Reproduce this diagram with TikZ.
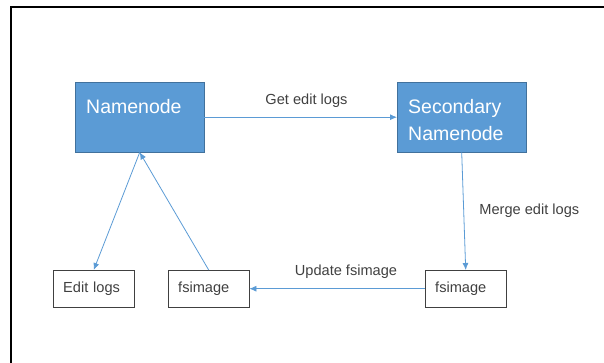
\documentclass[tikz,border=0pt]{standalone}
\usepackage{fontspec}
\setmainfont{Liberation Sans}
\usetikzlibrary{arrows.meta}
\definecolor{boxblue}{HTML}{5B9BD5}
\definecolor{boxedge}{HTML}{41719C}
\definecolor{ink}{HTML}{404040}
\begin{document}
\begin{tikzpicture}[x=1pt, y=-1pt,
  bigbox/.style={draw=boxedge, fill=boxblue, text=white, anchor=north west,
    font=\fontsize{19.5}{27}\selectfont, align=left, text width=107pt,
    inner xsep=11pt, inner ysep=11pt, text height=20pt, text depth=28pt},
  smallbox/.style={draw=ink, fill=white, text=ink, anchor=north west,
    font=\fontsize{14.6}{17}\selectfont, align=left, text width=61pt,
    inner xsep=10pt, minimum height=37pt},
  link/.style={draw=boxblue, line width=0.8pt, -{Latex[length=7pt,width=6pt]}},
  note/.style={text=ink, font=\fontsize{14.6}{17}\selectfont}]
  \useasboundingbox (0,0) rectangle (604,363);
  \draw[line width=2.6pt] (11,363) -- (11,7) -- (604,7);
  \node[bigbox] (nn) at (75,82) {Namenode};
  \node[bigbox] (snn) at (397,82) {Secondary\\Namenode};
  \node[smallbox] (logs) at (53,270) {Edit logs};
  \node[smallbox] (fsimg) at (168,270) {fsimage};
  \node[smallbox] (fsnew) at (425,270) {fsimage};
  \draw[link] (nn.east) -- node[note, above=6pt, pos=.53] {Get edit logs} (snn.west);
  \draw[link] (snn.south) -- node[note, right=12pt, pos=.5] {Merge edit logs} (fsnew.north);
  \draw[link] (fsnew.west) -- node[note, above=6pt, pos=.45] {Update fsimage} (fsimg.east);
  \draw[link] (nn.south) -- (logs.north);
  \draw[link] (fsimg.north) -- (nn.south);
\end{tikzpicture}
\end{document}
